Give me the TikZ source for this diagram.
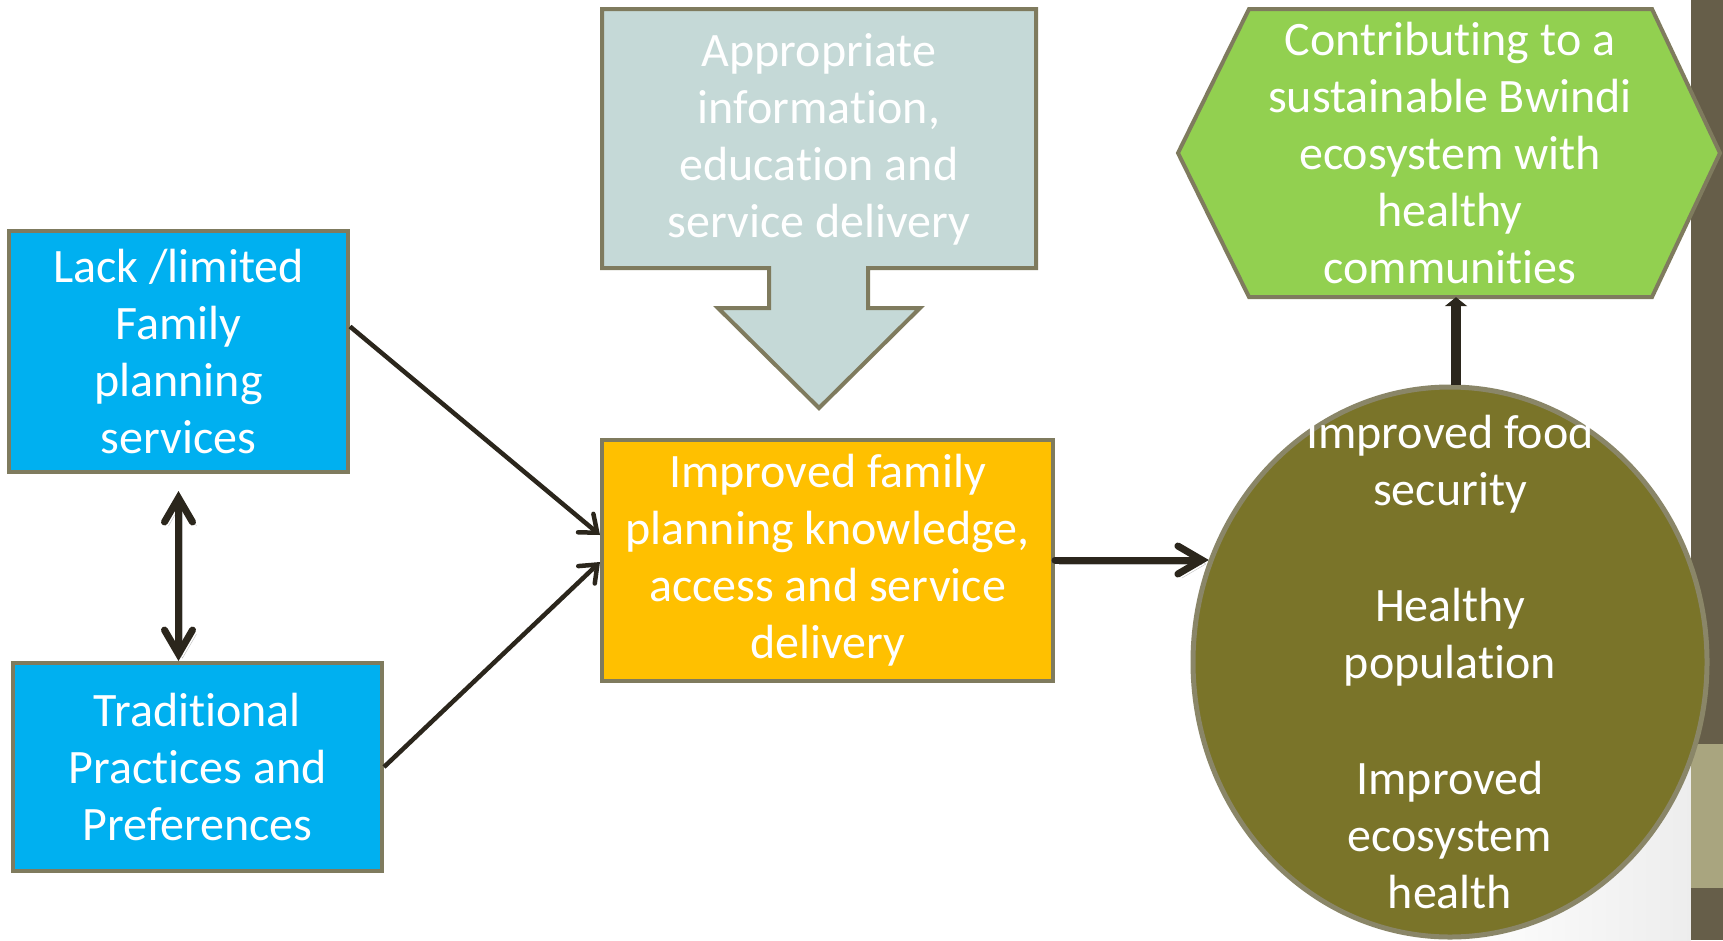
\documentclass[tikz,border=0pt]{standalone}
\usepackage{fontspec}
\setmainfont{Carlito}[Ligatures={NoCommon}]
\usetikzlibrary{positioning, arrows.meta, shapes.geometric}
\definecolor{edge}{RGB}{127,123,94}
\definecolor{causeblue}{HTML}{00B0F0}
\definecolor{infogrey}{HTML}{C5D9D7}
\definecolor{knowgold}{HTML}{FFC000}
\definecolor{goalgreen}{HTML}{92D050}
\definecolor{outolive}{RGB}{122,116,41}
\definecolor{ringedge}{RGB}{138,134,104}
\definecolor{ink}{RGB}{43,38,28}
\definecolor{banddark}{RGB}{102,94,73}
\definecolor{bandlight}{RGB}{169,165,127}
\tikzset{
x=1pt, y=-1pt, % one unit is one pixel of the slide, y runs downwards
every node/.style={text=white, font=\fontsize{48}{57}\selectfont, align=center},
box/.style={rectangle, draw=edge, line width=4pt, inner sep=0pt}, % plain boxes
cause/.style={box, fill=causeblue},
know/.style={box, fill=knowgold},
flat/.style={draw=edge, line width=4pt, line join=miter}, % drawn outlines
thinarrow/.style={draw=ink, line width=4.5pt, -{Straight Barb[length=15pt, width=24pt, line cap=round]}},
thickarrow/.style={draw=ink, line width=7pt, line cap=round,
  -{Straight Barb[length=24pt, width=28pt, line cap=round]},
  preaction={draw=black!25, transform canvas={shift={(4pt,-4pt)}}}},
}

\begin{document}
\begin{tikzpicture}
        \useasboundingbox (0,0) rectangle (1723,940);
        \fill[white] (0,0) rectangle (1723,940);
        \shade[left color=white, right color=black!7] (1450,700) rectangle (1691,940);
        % strip at the right edge of the slide
        \fill[banddark] (1691,0) rectangle (1723,940);
        \fill[bandlight] (1691,744) rectangle (1723,888);

        \node[cause, minimum width=339pt, minimum height=241pt] (lack) at (178.5,351.5)
          {Lack /limited\\Family\\planning\\services};
        \node[cause, minimum width=369pt, minimum height=208pt] (trad) at (197.5,767)
          {Traditional\\Practices and\\Preferences};
        \node[know, minimum width=451pt, minimum height=241pt] (know) at (827.5,560)
          {Improved family\\planning knowledge,\\access and service\\delivery};

        % down arrow callout
        \draw[flat, fill=infogrey] (602,9) -- (1036,9) -- (1036,268) -- (868,268) -- (868,308)
          -- (920,308) -- (819,408) -- (718,308) -- (769,308) -- (769,268) -- (602,268) -- cycle;
        \node (info) at (819,139) {Appropriate\\information,\\education and\\service delivery};

        % hexagon
        \draw[flat, fill=goalgreen] (1178,153) -- (1249,9) -- (1652,9) -- (1720,153)
          -- (1652,297) -- (1249,297) -- cycle;
        \node[minimum height=288pt, inner sep=0pt] (goal) at (1450,153)
          {Contributing to a\\sustainable Bwindi\\ecosystem with\\healthy\\communities};

        \node[ellipse, draw=ringedge, line width=5pt, fill=outolive, inner sep=0pt,
          minimum width=514pt, minimum height=550pt] (out) at (1450,662) {};
        \node at (out.center) {Improved food\\security\\[59pt]Healthy\\population\\[59pt]Improved\\ecosystem\\health};

        \draw[thinarrow] ([yshift=25pt]lack.east) -- ([yshift=25pt]know.west);
        \draw[thinarrow] (trad.east) -- ([yshift=-2pt]know.west);
        \draw[thickarrow, {Straight Barb[length=24pt, width=28pt, line cap=round]}-{Straight Barb[length=24pt, width=28pt, line cap=round]}]
          ([yshift=-17pt]lack.south) -- (lack.south |- trad.north);
        \draw[thickarrow] (know.east) -- (know.east -| out.157);
        \draw[draw=ink, line width=10pt, -{Triangle[length=9pt, width=22pt]}]
          ([xshift=6pt]out.north) -- ([xshift=6pt]goal.south);
\end{tikzpicture}
\end{document}
